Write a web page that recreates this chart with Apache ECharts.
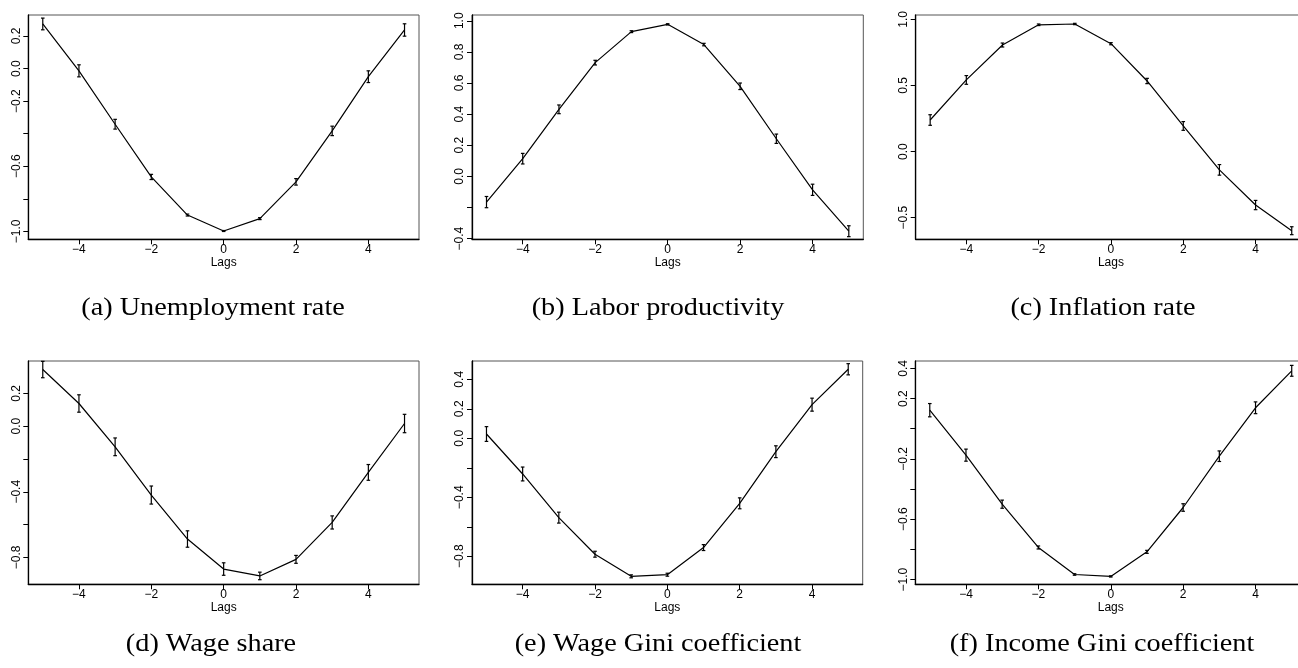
<!DOCTYPE html>
<html>
<head>
<meta charset="utf-8">
<script src="https://cdn.jsdelivr.net/npm/echarts@6/dist/echarts.min.js"></script>
<style>
html,body{margin:0;padding:0;background:#fff;}
#chart{width:1298px;height:668px;}
</style>
</head>
<body>
<div id="chart"></div>
<script>
// ---- data ----
const lags = [-5, -4, -3, -2, -1, 0, 1, 2, 3, 4, 5];

const unempVals = [0.274, -0.014, -0.342, -0.666, -0.900, -0.998, -0.922, -0.696, -0.383, -0.050, 0.237];
const unempErr  = [0.036, 0.037, 0.030, 0.016, 0.006, 0.003, 0.006, 0.020, 0.029, 0.036, 0.038];

const prodVals = [-0.165, 0.114, 0.431, 0.731, 0.930, 0.977, 0.847, 0.579, 0.242, -0.086, -0.352];
const prodErr  = [0.036, 0.034, 0.028, 0.015, 0.006, 0.004, 0.008, 0.021, 0.030, 0.036, 0.035];

const inflVals = [0.239, 0.542, 0.806, 0.959, 0.965, 0.816, 0.534, 0.194, -0.138, -0.404, -0.598];
const inflErr  = [0.040, 0.033, 0.015, 0.006, 0.005, 0.008, 0.020, 0.033, 0.040, 0.035, 0.030];

const wageVals = [0.345, 0.138, -0.126, -0.420, -0.688, -0.871, -0.913, -0.812, -0.587, -0.282, 0.016];
const wageErr  = [0.050, 0.053, 0.054, 0.055, 0.050, 0.038, 0.023, 0.024, 0.040, 0.048, 0.056];

const wGiniVals = [0.029, -0.242, -0.538, -0.786, -0.936, -0.925, -0.741, -0.441, -0.091, 0.228, 0.468];
const wGiniErr  = [0.050, 0.047, 0.037, 0.020, 0.010, 0.010, 0.020, 0.037, 0.040, 0.044, 0.038];

const iGiniVals = [0.123, -0.175, -0.500, -0.787, -0.966, -0.979, -0.816, -0.522, -0.182, 0.139, 0.384];
const iGiniErr  = [0.044, 0.040, 0.027, 0.010, 0.005, 0.004, 0.010, 0.025, 0.035, 0.039, 0.036];

// tick positions / labels
const xTicks = [-4, -2, 0, 2, 4];
const yTicksA = [-1.0, -0.8, -0.6, -0.4, -0.2, 0.0, 0.2];
const yLabelsA = [-1.0, -0.6, -0.2, 0.0, 0.2];
const yTicksB = [-0.4, -0.2, 0.0, 0.2, 0.4, 0.6, 0.8, 1.0];
const yLabelsB = [-0.4, 0.0, 0.2, 0.4, 0.6, 0.8, 1.0];
const yTicksC = [-0.5, 0.0, 0.5, 1.0];
const yLabelsC = [-0.5, 0.0, 0.5, 1.0];
const yTicksD = [-0.8, -0.6, -0.4, -0.2, 0.0, 0.2];
const yLabelsD = [-0.8, -0.4, 0.0, 0.2];
const yTicksE = [-0.8, -0.6, -0.4, -0.2, 0.0, 0.2, 0.4];
const yLabelsE = [-0.8, -0.4, 0.0, 0.2, 0.4];
const yTicksF = [-1.0, -0.8, -0.6, -0.4, -0.2, 0.0, 0.2, 0.4];
const yLabelsF = [-1.0, -0.6, -0.2, 0.2, 0.4];

const captions = ['(a) Unemployment rate', '(b) Labor productivity', '(c) Inflation rate',
                  '(d) Wage share', '(e) Wage Gini coefficient', '(f) Income Gini coefficient'];

// ---- layout ----
const panels = [
  {vals: unempVals, err: unempErr, yt: yTicksA, yl: yLabelsA, ymin: -1.049, ymax: 0.329,
   grid: {left: 28.3, width: 390.7, top: 15, height: 224.3}, cap: [213, 308]},
  {vals: prodVals, err: prodErr, yt: yTicksB, yl: yLabelsB, ymin: -0.404, ymax: 1.037,
   grid: {left: 472, width: 391.3, top: 15, height: 224.3}, cap: [658, 308]},
  {vals: inflVals, err: inflErr, yt: yTicksC, yl: yLabelsC, ymin: -0.663, ymax: 1.033,
   grid: {left: 915.7, width: 390.5, top: 15, height: 224.3}, cap: [1103, 308]},
  {vals: wageVals, err: wageErr, yt: yTicksD, yl: yLabelsD, ymin: -0.964, ymax: 0.397,
   grid: {left: 28.3, width: 390.7, top: 361, height: 223.3}, cap: [211, 644]},
  {vals: wGiniVals, err: wGiniErr, yt: yTicksE, yl: yLabelsE, ymin: -0.99, ymax: 0.524,
   grid: {left: 472, width: 390.7, top: 361, height: 223.3}, cap: [658, 644]},
  {vals: iGiniVals, err: iGiniErr, yt: yTicksF, yl: yLabelsF, ymin: -1.031, ymax: 0.449,
   grid: {left: 915.3, width: 390.9, top: 361, height: 223.3}, cap: [1102, 644]}
];

const fmt1 = v => (v < 0 ? '\u2212' : '') + Math.abs(v).toFixed(1);
const fmt0 = v => (v < 0 ? '\u2212' : '') + Math.abs(v).toFixed(0);

const grids = [], xAxes = [], yAxes = [], series = [], graphics = [];
panels.forEach((p, i) => {
  grids.push(Object.assign({show: true, borderColor: '#555', borderWidth: 1, backgroundColor: 'transparent',
    outerBoundsMode: 'none', containLabel: false}, p.grid));
  xAxes.push({
    type: 'value', gridIndex: i, min: -5.4, max: 5.4,
    name: 'Lags', nameLocation: 'middle', nameGap: 16,
    nameTextStyle: {fontFamily: 'Liberation Sans', fontSize: 12, color: '#000', verticalAlign: 'top'},
    axisLine: {show: true, onZero: false, lineStyle: {color: '#000', width: 1.3}},
    axisTick: {show: true, length: 5, customValues: xTicks, lineStyle: {color: '#000', width: 1}},
    axisLabel: {show: true, customValues: xTicks, margin: 4, formatter: fmt0,
      fontFamily: 'Liberation Sans', fontSize: 12, color: '#000'},
    splitLine: {show: false}
  });
  yAxes.push({
    type: 'value', gridIndex: i, min: p.ymin, max: p.ymax,
    axisLine: {show: true, onZero: false, lineStyle: {color: '#000', width: 1.3}},
    axisTick: {show: true, length: 5, customValues: p.yt, lineStyle: {color: '#000', width: 1}},
    axisLabel: {show: true, customValues: p.yl, rotate: 90, margin: 6, formatter: fmt1,
      fontFamily: 'Liberation Sans', fontSize: 12, color: '#000'},
    splitLine: {show: false}
  });
  series.push({
    type: 'line', xAxisIndex: i, yAxisIndex: i, symbol: 'none', animation: false,
    lineStyle: {color: '#000', width: 1.2},
    data: lags.map((l, k) => [l, p.vals[k]])
  });
  series.push({
    type: 'custom', xAxisIndex: i, yAxisIndex: i, animation: false,
    encode: {x: 0, y: 1},
    data: lags.map((l, k) => [l, p.vals[k], p.err[k]]),
    renderItem: function (params, api) {
      const x = api.value(0), v = api.value(1), e = api.value(2);
      const t = api.coord([x, v + e]);
      const b = api.coord([x, v - e]);
      const hw = 1.8;
      const st = {stroke: '#000', lineWidth: 1.2};
      return {type: 'group', children: [
        {type: 'line', shape: {x1: t[0], y1: t[1], x2: b[0], y2: b[1]}, style: st},
        {type: 'line', shape: {x1: t[0] - hw, y1: t[1], x2: t[0] + hw, y2: t[1]}, style: st},
        {type: 'line', shape: {x1: b[0] - hw, y1: b[1], x2: b[0] + hw, y2: b[1]}, style: st}
      ]};
    }
  });
  graphics.push({
    type: 'text', x: p.cap[0], y: p.cap[1], scaleX: 1.13,
    style: {text: captions[i], fontFamily: 'Liberation Serif', fontSize: 25, fill: '#000',
      align: 'center', verticalAlign: 'middle'}
  });
});

const chart = echarts.init(document.getElementById('chart'), null, {renderer: 'canvas'});
chart.setOption({
  animation: false,
  backgroundColor: '#fff',
  grid: grids, xAxis: xAxes, yAxis: yAxes, series: series,
  graphic: graphics
});
</script>
</body>
</html>
